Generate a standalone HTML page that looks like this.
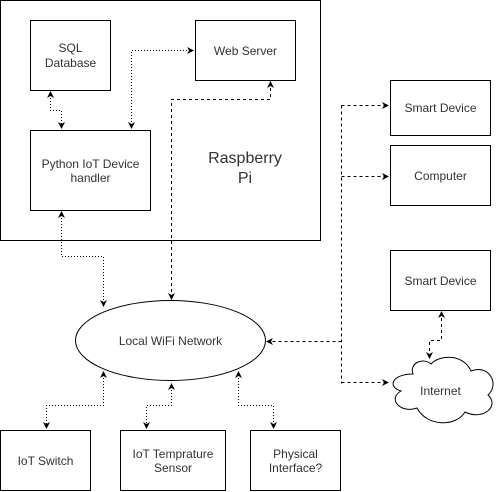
<!DOCTYPE html>
<html><head><style>body{margin:0;background:#fff}svg{display:block}</style></head><body>
<svg width="501" height="492" viewBox="0 0 501 492" xmlns="http://www.w3.org/2000/svg" font-family="Liberation Sans, sans-serif" font-size="12" fill="none">
<defs>
<marker id="a" markerWidth="8" markerHeight="8" refX="6" refY="4" orient="auto-start-reverse" markerUnits="userSpaceOnUse"><path d="M0,0.5 L7,4 L0,7.5 L2,4 Z" fill="#000"/></marker>
</defs>
<g stroke="#000" stroke-width="1">
<rect x="0.5" y="0.5" width="320" height="240"/>
<rect x="30.5" y="20.5" width="80" height="70"/>
<rect x="195.5" y="20.5" width="100" height="60"/>
<rect x="30.5" y="130.5" width="120" height="80"/>
<rect x="390.5" y="80.5" width="100" height="55"/>
<rect x="390.5" y="145.5" width="100" height="60"/>
<rect x="390.5" y="250.5" width="100" height="60"/>
<rect x="0.5" y="430.5" width="90" height="60"/>
<rect x="120.5" y="430.5" width="105" height="60"/>
<rect x="250.5" y="430.5" width="90" height="60"/>
<ellipse cx="170.5" cy="340.5" rx="95" ry="40"/>
<path d="M413,374 C392,374 387,387 401,391 C387,399 401,414 417,408 C427,427 456,427 465,412 C483,421 500,406 488,395 C500,384 489,364 471,371 C463,353 439,355 431,364 C423,357 409,363 413,374 Z"/>
</g>
<g stroke="#000" stroke-width="1" stroke-dasharray="1,2" marker-start="url(#a)" marker-end="url(#a)">
<path d="M50.5,92 V110.5 H61.5 V128"/>
<path d="M131.5,128 V50.5 H193"/>
<path d="M61.5,212 V256.5 H103.5 V306"/>
<path d="M103.5,372 V405.5 H46.5 V428"/>
<path d="M171.5,384 V405.5 H146.5 V428"/>
<path d="M238.5,372 V405.5 H273.5 V428"/>
</g>
<g stroke="#000" stroke-width="1" stroke-dasharray="3,3">
<path d="M270.5,82 V99.5 H171.5 V299" marker-start="url(#a)" marker-end="url(#a)"/>
<path d="M341.5,105.5 V383.5"/>
<path d="M341.5,105.5 H388" marker-end="url(#a)"/>
<path d="M341.5,176.5 H388" marker-end="url(#a)"/>
<path d="M341.5,341.5 H267" marker-end="url(#a)"/>
<path d="M341.5,382.5 H388" marker-end="url(#a)"/>
<path d="M441.5,312 V340.5 H429.5 V358" marker-start="url(#a)" marker-end="url(#a)"/>
</g>
<g fill="#333" text-anchor="middle">
<text x="70.5" y="52">SQL</text><text x="70.5" y="67">Database</text>
<text x="245.5" y="55">Web Server</text>
<text x="90.5" y="168">Python IoT Device</text><text x="90.5" y="182">handler</text>
<text x="245" y="163" font-size="16">Raspberry</text><text x="245" y="183" font-size="16">Pi</text>
<text x="440.5" y="112">Smart Device</text>
<text x="440.5" y="180">Computer</text>
<text x="440.5" y="285">Smart Device</text>
<text x="440.5" y="395">Internet</text>
<text x="170.5" y="345">Local WiFi Network</text>
<text x="45.5" y="465">IoT Switch</text>
<text x="173" y="458">IoT Temprature</text><text x="173" y="472">Sensor</text>
<text x="295.5" y="458">Physical</text><text x="295.5" y="472">Interface?</text>
</g>
</svg>
</body></html>
